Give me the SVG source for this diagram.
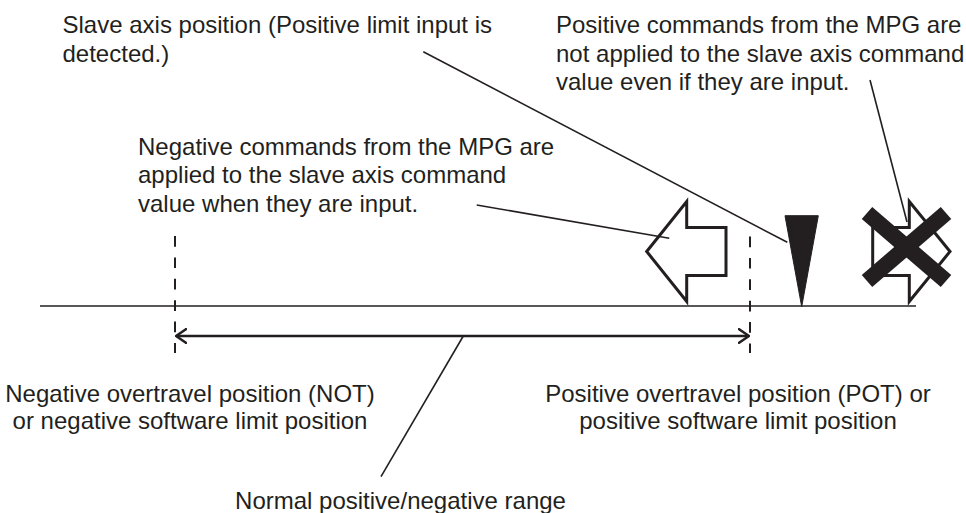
<svg xmlns="http://www.w3.org/2000/svg" width="966" height="513" viewBox="0 0 966 513">
<defs>
<style>
text{font-family:"Liberation Sans",Arial,sans-serif;font-size:24px;fill:#231f20}
.ln{stroke:#231f20;stroke-width:1.6;fill:none}
.dash{stroke:#231f20;stroke-width:2;stroke-dasharray:10.7 10.7;fill:none}
.hollow{fill:#fff;stroke:#231f20;stroke-width:3;stroke-linejoin:miter}
.range{stroke:#231f20;stroke-width:2.5;fill:none}
</style>
<marker id="open" viewBox="0 0 12 16" refX="11" refY="8" markerWidth="12" markerHeight="16" markerUnits="userSpaceOnUse" orient="auto-start-reverse">
<path d="M0,0.5 L11,8 L0,15.5" fill="none" stroke="#231f20" stroke-width="2.5"/>
</marker>
</defs>
<rect width="966" height="513" fill="#fff"/>

<g id="axis">
<line class="ln" x1="40" y1="306" x2="916" y2="306" stroke-width="2"/>
</g>
<g id="negative-limit">
<line class="dash" x1="175" y1="236" x2="175" y2="353"/>
</g>
<g id="positive-limit">
<line class="dash" x1="750" y1="236.5" x2="750" y2="353"/>
</g>
<g id="negative-command-arrow">
<polygon class="hollow" points="646.7,251.5 686.7,201.5 686.7,227.5 726,227.5 726,275.5 686.7,275.5 686.7,301.5"/>
</g>
<g id="slave-axis-marker">
<polygon points="785,215.7 818.3,215.7 801.7,306.7" fill="#231f20" stroke="#231f20" stroke-width="1" stroke-linejoin="round"/>
</g>
<g id="positive-command-blocked">
<polygon class="hollow" points="950,251.5 909.3,201.5 909.3,227.5 872.7,227.5 872.7,275.5 909.3,275.5 909.3,301.5"/>
<line x1="867" y1="213" x2="946" y2="281" stroke="#231f20" stroke-width="16"/>
<line x1="946" y1="213" x2="867" y2="281" stroke="#231f20" stroke-width="16"/>
</g>

<g id="connectors">
<line class="range" x1="176" y1="336" x2="749" y2="336" marker-start="url(#open)" marker-end="url(#open)"/>
<line class="ln" x1="423.3" y1="51.7" x2="787.3" y2="242.3"/>
<line class="ln" x1="476.7" y1="205" x2="669.3" y2="238.3"/>
<line class="ln" x1="870" y1="80" x2="907" y2="222"/>
<line class="ln" x1="463.3" y1="336" x2="381" y2="476.7"/>
</g>

<g id="label-slave">
<text x="62.5" y="33.3">Slave axis position (Positive limit input is</text>
<text x="62.5" y="61.8">detected.)</text>
</g>
<g id="label-positive">
<text x="556" y="33.3">Positive commands from the MPG are</text>
<text x="556" y="61.8">not applied to the slave axis command</text>
<text x="556" y="90.2">value even if they are input.</text>
</g>
<g id="label-negative">
<text x="138" y="155">Negative commands from the MPG are</text>
<text x="138" y="183.3">applied to the slave axis command</text>
<text x="138" y="211.7">value when they are input.</text>
</g>
<g id="label-not">
<text x="190" y="401.7" text-anchor="middle">Negative overtravel position (NOT)</text>
<text x="190" y="428.5" text-anchor="middle">or negative software limit position</text>
</g>
<g id="label-pot">
<text x="738" y="401.7" text-anchor="middle">Positive overtravel position (POT) or</text>
<text x="738" y="428.5" text-anchor="middle">positive software limit position</text>
</g>
<g id="label-range">
<text x="400.5" y="509" text-anchor="middle">Normal positive/negative range</text>
</g>
</svg>
